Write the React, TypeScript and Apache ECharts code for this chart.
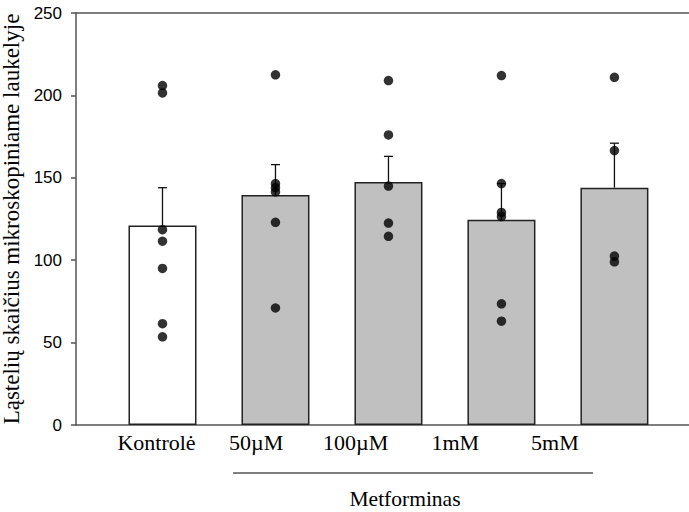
import React, { useEffect, useRef } from "react";
import * as echarts from "echarts";

const categories = ["Kontrolė", "50µM", "100µM", "1mM", "5mM"];
const means = [121, 139.5, 147.5, 124.5, 144];
const errorTops = [144, 158, 163, 146.5, 171];
const yTicks = [0, 50, 100, 150, 200, 250];

const kontrole = [206, 201.5, 118.5, 111.5, 95, 61.5, 53.5];
const met50uM = [212.5, 146.5, 144, 141.5, 123, 71];
const met100uM = [209, 176, 145, 122.5, 114.5];
const met1mM = [212, 146.5, 129, 126.5, 73.5, 63];
const met5mM = [211, 166.5, 102.5, 99];

const groupLabel = "Metforminas";
const yName = "Ląstelių skaičius mikroskopiniame laukelyje";

export default function App() {
  const ref = useRef<HTMLDivElement>(null);
  useEffect(() => {
    if (!ref.current) return;
    const chart = echarts.init(ref.current, null, { renderer: "svg" });
    const groups = [kontrole, met50uM, met100uM, met1mM, met5mM];
    const points: number[][] = [];
    groups.forEach((g, i) => g.forEach((v) => points.push([i, v])));
    const serif = "Liberation Serif";
    const axisColor = "#555";
    chart.setOption({
      animation: false,
      grid: [
        { left: 76, top: 13, right: 0, bottom: 87, outerBoundsMode: "none", containLabel: false },
        { left: 106.7, width: 498, top: 13, bottom: 87, outerBoundsMode: "none", containLabel: false },
      ],
      xAxis: [
        {
          type: "value",
          gridIndex: 0,
          min: -0.7655,
          max: 4.66,
          axisLine: { show: true, onZero: false, lineStyle: { color: axisColor, width: 1.5 } },
          axisTick: { show: false },
          axisLabel: { show: false },
          splitLine: { show: false },
        },
        {
          type: "value",
          gridIndex: 0,
          position: "top",
          min: -0.7655,
          max: 4.66,
          axisLine: { show: true, onZero: false, lineStyle: { color: axisColor, width: 1.5 } },
          axisTick: { show: false },
          axisLabel: { show: false },
          splitLine: { show: false },
        },
        {
          type: "category",
          gridIndex: 1,
          data: categories,
          axisLine: { show: false },
          axisTick: { show: false },
          axisLabel: { interval: 0, fontFamily: serif, fontSize: 22, color: "#000", margin: 6 },
          splitLine: { show: false },
        },
      ],
      yAxis: [
        {
          type: "value",
          gridIndex: 0,
          min: yTicks[0],
          max: yTicks[yTicks.length - 1],
          interval: 50,
          name: yName,
          nameLocation: "middle",
          nameGap: 45,
          nameTextStyle: { fontFamily: serif, fontSize: 23, color: "#000" },
          axisLine: { show: true, onZero: false, lineStyle: { color: axisColor, width: 1.5 } },
          axisTick: { show: true, inside: false, length: 5, lineStyle: { color: axisColor, width: 1.5 } },
          axisLabel: {
            fontFamily: "Liberation Sans",
            fontSize: 17,
            color: "#000",
            margin: 14,
          },
          splitLine: { show: false },
        },
        { type: "value", gridIndex: 1, show: false, min: 0, max: 250 },
      ],
      series: [
        {
          type: "bar",
          xAxisIndex: 0,
          yAxisIndex: 0,
          barWidth: 68,
          data: means.map((m, i) => ({
            value: [i, m],
            itemStyle: { color: i === 0 ? "#ffffff" : "#c0c0c0" },
          })),
          itemStyle: { borderColor: "#222", borderWidth: 1.5 },
          z: 2,
        },
        {
          type: "custom",
          xAxisIndex: 0,
          yAxisIndex: 0,
          data: means.map((m, i) => [i, m, errorTops[i]]),
          encode: { x: 0, y: [1, 2] },
          renderItem: (params: any, api: any) => {
            const x = api.value(0);
            const p0 = api.coord([x, api.value(1)]);
            const p1 = api.coord([x, api.value(2)]);
            const style = { stroke: "#111", lineWidth: 1.3 };
            return {
              type: "group",
              children: [
                { type: "line", shape: { x1: p0[0], y1: p0[1], x2: p1[0], y2: p1[1] }, style },
                { type: "line", shape: { x1: p1[0] - 4.5, y1: p1[1], x2: p1[0] + 4.5, y2: p1[1] }, style },
              ],
            };
          },
          z: 3,
        },
        {
          type: "scatter",
          xAxisIndex: 0,
          yAxisIndex: 0,
          symbol: "circle",
          symbolSize: 9.5,
          itemStyle: { color: "#000" },
          data: points,
          z: 4,
        },
      ],
      graphic: [
        {
          type: "line",
          shape: { x1: 233, y1: 473, x2: 593, y2: 473 },
          style: { stroke: "#000", lineWidth: 1 },
        },
        {
          type: "text",
          x: 405,
          y: 499,
          style: {
            text: groupLabel,
            fontFamily: serif,
            fontSize: 21.5,
            fill: "#000",
            textAlign: "center",
            textVerticalAlign: "middle",
          },
        },
      ],
    });
    return () => chart.dispose();
  }, []);
  return (
    <div
      ref={ref}
      style={{ position: "absolute", left: 0, top: 0, width: 689, height: 512 }}
    />
  );
}
